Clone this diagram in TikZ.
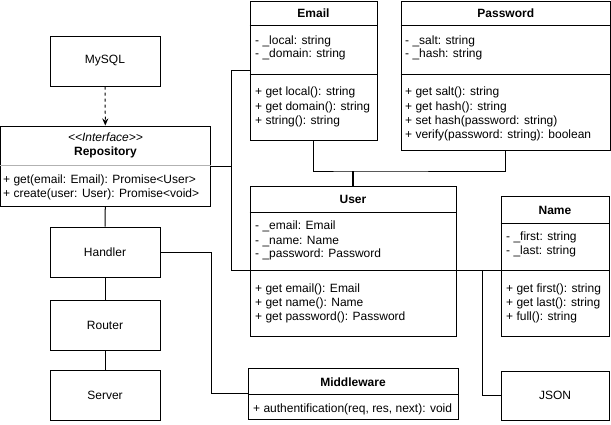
\documentclass[tikz,border=0pt]{standalone}
\usepackage{fontspec}
\setmainfont{Liberation Sans}
\usetikzlibrary{arrows.meta}

\begin{document}
\begin{tikzpicture}[x=1pt,y=-1pt,
    font=\fontsize{12}{14}\selectfont,
    box/.style={draw=black, line width=1pt, inner sep=0pt},
    line/.style={anchor=base west, inner sep=0pt},
    title/.style={anchor=base, inner sep=0pt, font=\fontsize{12}{14}\selectfont\bfseries},
    link/.style={draw=black, line width=1pt}]
    \useasboundingbox (0,0) rectangle (611,424);
    % plain boxes
    \node [box, minimum width=110pt, minimum height=50pt] (mysql) at (105,61) {MySQL};
    \node [box, minimum width=110pt, minimum height=50pt] (handler) at (105,252) {Handler};
    \node [box, minimum width=110pt, minimum height=50pt] (router) at (105,325) {Router};
    \node [box, minimum width=110pt, minimum height=50pt] (server) at (105,395) {Server};
    \node [box, minimum width=108pt, minimum height=49pt] (json) at (555,395.5) {JSON};
    % class boxes
    \node [box, minimum width=210pt, minimum height=80pt] (repo) at (105.5,166) {};
    \node [box, minimum width=127pt, minimum height=139pt] (email) at (313.5,70.5) {};
    \node [box, minimum width=209.5pt, minimum height=149pt] (password) at (505.75,75.5) {};
    \node [box, minimum width=206pt, minimum height=150pt] (user) at (353,261) {};
    \node [box, minimum width=108pt, minimum height=140pt] (name) at (555,266) {};
    \node [box, minimum width=210pt, minimum height=51pt] (middleware) at (353,394) {};
    % separators
    \draw [gray!60, line width=1pt] (repo.west |- 0,165) -- (repo.east |- 0,165);
    \draw [black, line width=1pt] (email.west |- 0,25) -- (email.east |- 0,25);
    \draw [black, line width=1pt] (email.west |- 0,74) -- (email.east |- 0,74);
    \draw [black, line width=1pt] (password.west |- 0,25) -- (password.east |- 0,25);
    \draw [black, line width=1pt] (password.west |- 0,74) -- (password.east |- 0,74);
    \draw [black, line width=1pt] (user.west |- 0,212) -- (user.east |- 0,212);
    \draw [black, line width=1pt] (user.west |- 0,270) -- (user.east |- 0,270);
    \draw [black, line width=1pt] (name.west |- 0,223) -- (name.east |- 0,223);
    \draw [black, line width=1pt] (name.west |- 0,270) -- (name.east |- 0,270);
    \draw [black, line width=1pt] (middleware.west |- 0,394) -- (middleware.east |- 0,394);
    % Repository
    \node [anchor=base, inner sep=0pt, font=\fontsize{12}{14}\selectfont\itshape] (repoS) at (105.5,141) {<{}<Interface>{}>};
    \node [title] (repoT) at (105.5,155) {Repository};
    \node [line] (repoM1) at (3,183) {+ get(email: Email): Promise<User>};
    \node [line] (repoM2) at (3,197) {+ create(user: User): Promise<void>};
    % Email
    \node [title] (emailT) at (313.5,17) {Email};
    \node [line] (emailA1) at (255,44) {- \_local: string};
    \node [line] (emailA2) at (255,57) {- \_domain: string};
    \node [line] (emailM1) at (255,95) {+ get local(): string};
    \node [line] (emailM2) at (255,110) {+ get domain(): string};
    \node [line] (emailM3) at (255,124) {+ string(): string};
    % Password
    \node [title] (passwordT) at (505.75,17) {Password};
    \node [line] (passwordA1) at (405,44) {- \_salt: string};
    \node [line] (passwordA2) at (405,57) {- \_hash: string};
    \node [line] (passwordM1) at (405,95) {+ get salt(): string};
    \node [line] (passwordM2) at (405,110) {+ get hash(): string};
    \node [line] (passwordM3) at (405,124) {+ set hash(password: string)};
    \node [line] (passwordM4) at (405,138) {+ verify(password: string): boolean};
    % User
    \node [title] (userT) at (353,203) {User};
    \node [line] (userA1) at (255,229) {- \_email: Email};
    \node [line] (userA2) at (255,244) {- \_name: Name};
    \node [line] (userA3) at (255,257) {- \_password: Password};
    \node [line] (userM1) at (255,292) {+ get email(): Email};
    \node [line] (userM2) at (255,306) {+ get name(): Name};
    \node [line] (userM3) at (255,320) {+ get password(): Password};
    % Name
    \node [title] (nameT) at (555,214) {Name};
    \node [line] (nameA1) at (506,240) {- \_first: string};
    \node [line] (nameA2) at (506,254) {- \_last: string};
    \node [line] (nameM1) at (506,292) {+ get first(): string};
    \node [line] (nameM2) at (506,306) {+ get last(): string};
    \node [line] (nameM3) at (506,320) {+ full(): string};
    % Middleware
    \node [title] (middlewareT) at (353,386) {Middleware};
    \node [line] (middlewareM1) at (253,412) {+ authentification(req, res, next): void};
    % junctions
    \coordinate (uj) at (231,270);
    \coordinate (jj) at (482,270);
    \coordinate (ep) at (353,171);
    \coordinate (hm) at (211,393);
    % connectors
    \draw [link, dashed, -{Stealth[length=7pt,width=6pt]}] (mysql) -- (repo);
    \draw [link] (repo) -- (handler);
    \draw [link] (handler) -- (router);
    \draw [link] (router) -- (server);
    \draw [link] (handler.east) -| (hm) -- (middleware.west |- hm);
    \draw [link] (repo.east) -- (repo.east -| uj);
    \draw [link] (email.west) -| (uj) -- (name.west |- uj);
    \draw [link] (jj) |- (json.west);
    \draw [link] (email.south) |- (ep) -| (password.south);
    \draw [black, line width=2pt] (ep) -- (user.north);
\end{tikzpicture}
\end{document}
